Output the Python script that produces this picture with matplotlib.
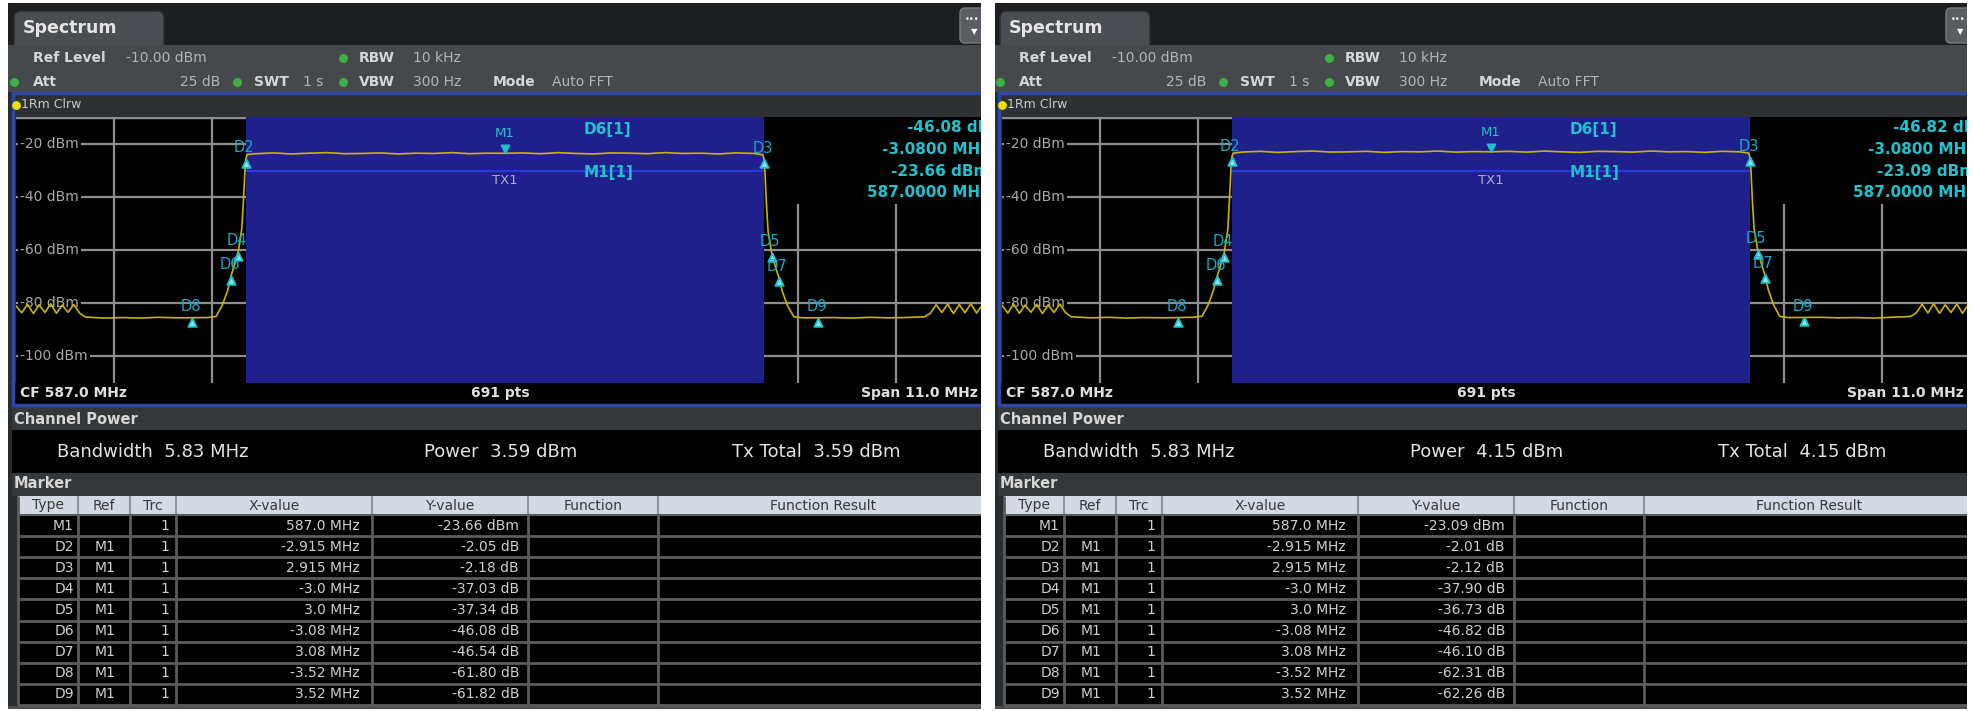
import matplotlib
matplotlib.use("Agg")
import matplotlib.pyplot as plt
from matplotlib.patches import Rectangle, FancyBboxPatch

# frequency offset from CF (MHz) of the drawn trace points
trace_freq = [-5.5, -5.435, -5.37, -5.305, -5.24, -5.175, -5.11, -5.045, -4.98, -4.915, -4.85, -4.785,
              -4.72, -4.5, -4.3, -4.1, -3.9, -3.7, -3.52, -3.35, -3.25, -3.18, -3.12, -3.08, -3.04,
              -3.0, -2.96, -2.94, -2.925, -2.915, -2.9,
              -2.8, -2.6, -2.4, -2.2, -2.0, -1.8, -1.6, -1.4, -1.2, -1.0, -0.8, -0.6, -0.4, -0.2, 0.0,
              0.2, 0.4, 0.6, 0.8, 1.0, 1.2, 1.4, 1.6, 1.8, 2.0, 2.2, 2.4, 2.6, 2.8,
              2.9, 2.915, 2.925, 2.94, 2.96, 3.0, 3.04, 3.08, 3.12, 3.18, 3.25, 3.35, 3.52, 3.7, 3.9,
              4.1, 4.3, 4.5, 4.72,
              4.785, 4.85, 4.915, 4.98, 5.045, 5.11, 5.175, 5.24, 5.305, 5.37, 5.435, 5.5]

# trace levels in dBm, left screen
trace_left = [-81.0, -83.6, -80.4, -83.9, -80.6, -83.5, -80.2, -83.8, -80.7, -83.4, -80.5, -83.7,
              -85.2, -85.6, -85.4, -85.6, -85.3, -85.5, -85.46, -85.4, -85.0, -80.8, -75.3, -69.74, -65.2,
              -60.69, -52.0, -40.5, -30.2, -25.71, -24.1,
              -23.8, -23.5, -23.9, -23.6, -23.4, -23.8, -23.7, -23.5, -23.9, -23.6, -23.7, -23.4, -23.8, -23.6, -23.66,
              -23.5, -23.8, -23.4, -23.7, -23.9, -23.5, -23.6, -23.8, -23.4, -23.7, -23.6, -23.9, -23.5, -23.7,
              -24.2, -25.84, -30.5, -41.8, -53.0, -61.0, -66.1, -70.2, -75.6, -81.0, -85.1, -85.5, -85.48, -85.4, -85.6,
              -85.3, -85.5, -85.4, -85.1,
              -83.8, -80.6, -83.5, -80.3, -83.9, -80.5, -83.6, -80.2, -83.7, -80.6, -83.4, -80.4]

# trace levels in dBm, right screen
trace_right = [-80.8, -83.7, -80.3, -83.8, -80.7, -83.4, -80.4, -83.9, -80.6, -83.5, -80.3, -83.6,
               -85.1, -85.5, -85.3, -85.6, -85.4, -85.5, -85.40, -85.3, -84.9, -80.6, -75.0, -69.91, -65.5,
               -60.99, -52.3, -40.0, -29.8, -25.10, -23.6,
               -23.2, -22.9, -23.3, -23.0, -22.8, -23.2, -23.1, -22.9, -23.3, -23.0, -23.1, -22.8, -23.2, -23.0, -23.09,
               -22.9, -23.2, -22.8, -23.1, -23.3, -22.9, -23.0, -23.2, -22.8, -23.1, -23.0, -23.3, -22.9, -23.1,
               -23.6, -25.21, -30.0, -41.0, -52.0, -59.82, -65.0, -69.19, -75.0, -80.7, -85.0, -85.4, -85.35, -85.3, -85.5,
               -85.4, -85.6, -85.3, -85.0,
               -83.6, -80.4, -83.7, -80.2, -83.8, -80.6, -83.5, -80.3, -83.8, -80.5, -83.5, -80.3]

marker_types = ["M1", "D2", "D3", "D4", "D5", "D6", "D7", "D8", "D9"]
marker_refs = ["", "M1", "M1", "M1", "M1", "M1", "M1", "M1", "M1"]
marker_freq = [0.0, -2.915, 2.915, -3.0, 3.0, -3.08, 3.08, -3.52, 3.52]
marker_xtext = ["587.0 MHz", "-2.915 MHz", "2.915 MHz", "-3.0 MHz", "3.0 MHz",
                "-3.08 MHz", "3.08 MHz", "-3.52 MHz", "3.52 MHz"]

m1_left = -23.66
delta_left = [-2.05, -2.18, -37.03, -37.34, -46.08, -46.54, -61.80, -61.82]
power_left = 3.59

m1_right = -23.09
delta_right = [-2.01, -2.12, -37.90, -36.73, -46.82, -46.10, -62.31, -62.26]
power_right = 4.15

grid_levels = [-20, -40, -60, -80, -100]
grid_freqs = [-4.4, -3.3, -2.2, -1.1, 0.0, 1.1, 2.2, 3.3, 4.4]
channel_bw = 5.83

W, H = 1974, 711
fig = plt.figure(figsize=(W / 100, H / 100), dpi=100, facecolor="white")
bg = fig.add_axes([0, 0, 1, 1])
bg.set_xlim(0, W)
bg.set_ylim(H, 0)
bg.axis("off")

CYAN = "#1ec3cf"
TXT = "#d6d6d6"
VAL = "#b4b4b4"
HDR = "#34383b"


def rect(x, y, w, h, color, z=1):
    bg.add_patch(Rectangle((x, y), w, h, facecolor=color, edgecolor="none", zorder=z))


def hline(x1, x2, y, color, lw=1.5, z=3):
    bg.plot([x1, x2], [y, y], color=color, lw=lw, zorder=z, solid_capstyle="butt")


def vline(x, y1, y2, color, lw=1.5, z=3):
    bg.plot([x, x], [y1, y2], color=color, lw=lw, zorder=z, solid_capstyle="butt")


def draw_panel(px, trace, m1, deltas, power):
    pw = 973
    # frame and header
    rect(px, 3, pw, 706, "#2a2d30", 0.5)
    rect(px, 3, pw, 42, "#1c1e20", 0.6)
    bg.add_patch(FancyBboxPatch((px + 6, 11), 150, 40, boxstyle="round,pad=0,rounding_size=7",
                                facecolor="#4a4e52", edgecolor="#2a2c2e", lw=1, zorder=0.7))
    rect(px, 45, pw, 47, "#45494c", 0.8)
    bg.text(px + 15, 28, "Spectrum", color="#e4e4e4", fontsize=12.5, fontweight="bold", va="center", zorder=4)
    bg.add_patch(FancyBboxPatch((px + 952, 8), 30, 35, boxstyle="round,pad=0,rounding_size=5",
                                facecolor="#5a5e62", edgecolor="#777b80", lw=1, zorder=2))
    bg.text(px + 964, 19, "•••", color="white", fontsize=6, ha="center", va="center", zorder=4)
    bg.text(px + 966, 32, "▼", color="white", fontsize=6, ha="center", va="center", zorder=4)

    bg.text(px + 25, 58, "Ref Level", color=TXT, fontsize=10, fontweight="bold", va="center", zorder=4)
    bg.text(px + 118, 58, "-10.00 dBm", color=VAL, fontsize=10, va="center", zorder=4)
    bg.text(px + 25, 82, "Att", color=TXT, fontsize=10, fontweight="bold", va="center", zorder=4)
    bg.text(px + 212, 82, "25 dB", color=VAL, fontsize=10, ha="right", va="center", zorder=4)
    bg.text(px + 246, 82, "SWT", color=TXT, fontsize=10, fontweight="bold", va="center", zorder=4)
    bg.text(px + 295, 82, "1 s", color=VAL, fontsize=10, va="center", zorder=4)
    bg.text(px + 351, 58, "RBW", color=TXT, fontsize=10, fontweight="bold", va="center", zorder=4)
    bg.text(px + 405, 58, "10 kHz", color=VAL, fontsize=10, va="center", zorder=4)
    bg.text(px + 351, 82, "VBW", color=TXT, fontsize=10, fontweight="bold", va="center", zorder=4)
    bg.text(px + 405, 82, "300 Hz", color=VAL, fontsize=10, va="center", zorder=4)
    bg.text(px + 485, 82, "Mode", color=TXT, fontsize=10, fontweight="bold", va="center", zorder=4)
    bg.text(px + 544, 82, "Auto FFT", color=VAL, fontsize=10, va="center", zorder=4)
    bg.scatter([px + 6, px + 229, px + 335, px + 335], [82, 82, 58, 82], s=30, color="#3cb043", zorder=4)

    # diagram window
    hline(px + 4, px + pw, 93, "#2b48a8", lw=2.5)
    rect(px + 5, 94, pw - 5, 23, "#2e3134", 0.8)
    bg.scatter([px + 8], [105], s=28, color="#f0e000", zorder=4)
    bg.text(px + 13, 105, "1Rm Clrw", color="#c8c8c8", fontsize=9, va="center", zorder=4)
    rect(px + 5, 383, pw - 5, 21, "black", 0.8)
    bg.text(px + 12, 393, "CF 587.0 MHz", color="#e0e0e0", fontsize=10, fontweight="bold", va="center", zorder=4)
    bg.text(px + 492, 393, "691 pts", color="#e0e0e0", fontsize=10, fontweight="bold", ha="center", va="center", zorder=4)
    bg.text(px + 970, 393, "Span 11.0 MHz", color="#e0e0e0", fontsize=10, fontweight="bold", ha="right", va="center", zorder=4)
    hline(px + 4, px + pw, 405, "#2b48a8", lw=2.5)
    vline(px + 5, 92, 406, "#2b48a8", lw=2.5)

    # channel power
    rect(px + 4, 407, pw - 4, 23, HDR, 0.8)
    bg.text(px + 6, 419, "Channel Power", color=TXT, fontsize=10.5, fontweight="bold", va="center", zorder=4)
    rect(px + 4, 430, pw - 4, 43, "black", 0.8)
    bg.text(px + 49, 452, f"Bandwidth  {channel_bw:.2f} MHz", color="#e4e4e4", fontsize=13, va="center", zorder=4)
    bg.text(px + 416, 452, f"Power  {power:.2f} dBm", color="#e4e4e4", fontsize=13, va="center", zorder=4)
    bg.text(px + 724, 452, f"Tx Total  {power:.2f} dBm", color="#e4e4e4", fontsize=13, va="center", zorder=4)
    rect(px + 4, 473, pw - 4, 23, HDR, 0.8)
    bg.text(px + 6, 484, "Marker", color=TXT, fontsize=10.5, fontweight="bold", va="center", zorder=4)

    # marker table
    cols = [10, 70, 122, 168, 364, 520, 650, pw + 10]
    heads = ["Type", "Ref", "Trc", "X-value", "Y-value", "Function", "Function Result"]
    rect(px + cols[0], 496, pw - cols[0], 19, "#d3dae3", 0.9)
    for i, name in enumerate(heads):
        cx = px + (cols[i] + cols[i + 1]) / 2
        if i == 6:
            cx = px + 815
        bg.text(cx, 505.5, name, color="#3a3a3a", fontsize=10, ha="center", va="center", zorder=4)
    rh = 21.1
    rect(px + cols[0], 515, pw - cols[0], 9 * rh, "black", 0.9)
    yvals = [f"{m1:.2f} dBm"] + [f"{d:.2f} dB" for d in deltas]
    for r in range(9):
        yc = 515 + (r + 0.5) * rh
        cells = [(marker_types[r], cols[1] - 4, "right"), (marker_refs[r], cols[2] - 14, "right"),
                 ("1", cols[3] - 7, "right"), (marker_xtext[r], cols[4] - 12, "right"),
                 (yvals[r], cols[5] - 9, "right")]
        for txt, x, ha in cells:
            bg.text(px + x, yc, txt, color="#cfcfcf", fontsize=10, ha=ha, va="center", zorder=4)
        hline(px + cols[0], px + pw, 515 + (r + 1) * rh, "#5c5c5c", lw=2)
    for c in cols[1:7]:
        vline(px + c, 496, 515, "#8f969e", lw=1.5)
        vline(px + c, 515, 515 + 9 * rh, "#5c5c5c", lw=2)
    vline(px + cols[0], 496, 515 + 9 * rh, "#5c5c5c", lw=2)
    hline(px + cols[0], px + pw, 515, "#5c5c5c", lw=1.5)
    rect(px, 706, pw, 3, "#4a4e52", 0.95)

    # spectrum diagram
    ppm = 88.9  # pixels per MHz in the diagram
    x_left = px + 8
    ax = fig.add_axes([x_left / W, (H - 383) / H, (px + pw - x_left) / W, 266 / H])
    ax.set_xlim(-5.5, -5.5 + (px + pw - x_left) / ppm)
    ax.set_ylim(-110, -10)
    ax.set_facecolor("black")
    ax.set_xticks([])
    ax.set_yticks([])
    for s in ax.spines.values():
        s.set_visible(False)

    for lev in grid_levels:
        ax.axhline(lev, color="#8e8e8e", lw=1.6, zorder=1)
    ax.axhline(-10, color="#8e8e8e", lw=2.5, zorder=1)
    for f in grid_freqs:
        ax.axvline(f, color="#8e8e8e", lw=1.6, zorder=1)
    half = channel_bw / 2
    ax.axvspan(-half, half, color="#20208c", lw=0, zorder=2)
    ax.add_patch(Rectangle((half, -42.7), 3.0, 32.7, facecolor="black", edgecolor="none", zorder=2.5))
    ax.plot([-half, half], [-30.3, -30.3], color="#2838e0", lw=1.5, zorder=2.6)
    for lev in grid_levels:
        ax.text(-5.45, lev, f"{lev} dBm", color="#a8a8a8", fontsize=10, va="center", ha="left", zorder=3,
                bbox=dict(facecolor="black", edgecolor="none", pad=1.5))

    ax.plot(trace_freq, trace, color="#c8b400", lw=1.2, zorder=4)

    # markers
    tri_up = [(0, 0), (-0.6, -1.2), (0.6, -1.2), (0, 0)]
    tri_dn = [(0, 0), (-0.6, 1.2), (0.6, 1.2), (0, 0)]
    ax.plot([marker_freq[0]], [m1], marker=tri_dn, ms=12, color=CYAN, mec=CYAN, ls="none", zorder=5)
    ax.annotate("M1", (marker_freq[0], m1), xytext=(0, 14), textcoords="offset points",
                color=CYAN, fontsize=9.5, ha="center", va="center", zorder=5)
    ax.text(0, -33.9, "TX1", color="#a8b0c8", fontsize=9.5, ha="center", va="center", zorder=5)
    for i, d in enumerate(deltas):
        f = marker_freq[i + 1]
        lev = m1 + d
        ax.plot([f], [lev], marker=tri_up, ms=12, color="#8fe4e6", mec=CYAN, mew=1.3, ls="none", zorder=5)
        ax.annotate(marker_types[i + 1], (f, lev), xytext=(-1, 8), textcoords="offset points",
                    color="#1aa8c8", fontsize=10.5, ha="center", va="center", zorder=5)

    # marker info
    ax.text(0.88, -14.7, "D6[1]", color=CYAN, fontsize=11, fontweight="bold", va="center", zorder=5)
    ax.text(0.88, -30.9, "M1[1]", color=CYAN, fontsize=11, fontweight="bold", va="center", zorder=5)
    info = [(f"{deltas[4]:.2f} dB", -14.0), ("-3.0800 MHz", -22.3),
            (f"{m1:.2f} dBm", -30.6), ("587.0000 MHz", -38.4)]
    for txt, lev in info:
        ax.text(5.45, lev, txt, color=CYAN, fontsize=11, fontweight="bold", ha="right", va="center",
                zorder=5, clip_on=True)

    # crop edge of the screenshot
    rect(px + pw, 0, 14, H, "white", 20)


draw_panel(8, trace_left, m1_left, delta_left, power_left)
draw_panel(994, trace_right, m1_right, delta_right, power_right)
rect(0, 0, W, 3, "white", 20)
rect(0, 0, 8, H, "white", 20)

fig.savefig("out.png", dpi=100, facecolor="white")
